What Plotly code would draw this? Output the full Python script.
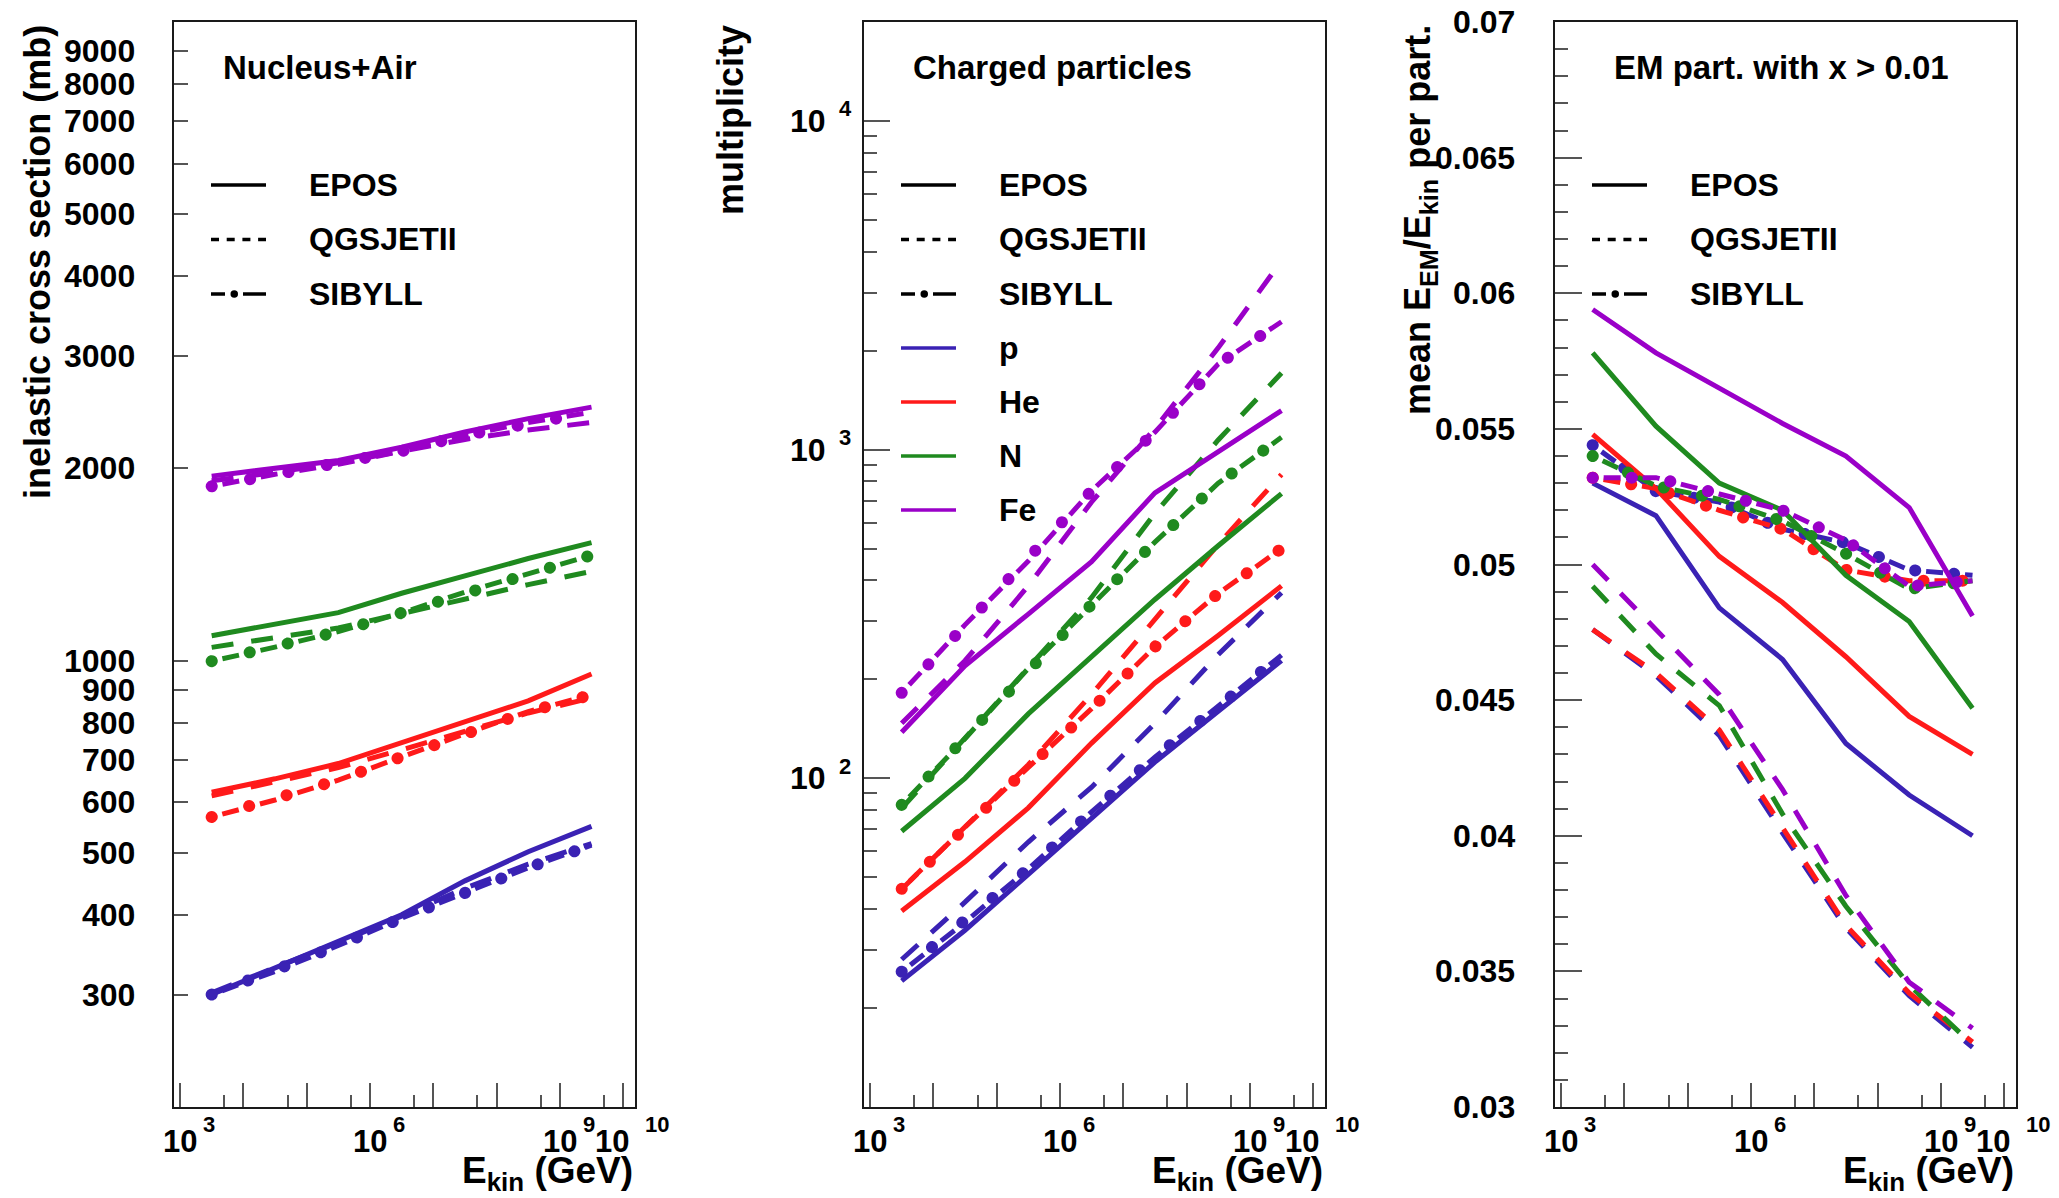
import numpy as np
import plotly.graph_objects as go

W, H = 2059, 1198

# ---------------- data ----------------
energy_gev = [10**3.5, 10**4.5, 10**5.5, 10**6.5, 10**7.5, 10**8.5, 10**9.5]
nuclei = ["p", "He", "N", "Fe"]
models = ["EPOS", "QGSJETII", "SIBYLL"]

# Panel 1: inelastic cross section (mb)
xsec_epos = {"p": [300, 330, 364, 400, 452, 502, 550],
             "He": [622, 653, 690, 744, 802, 865, 953],
             "N": [1094, 1139, 1189, 1275, 1360, 1445, 1530],
             "Fe": [1945, 2000, 2058, 2158, 2280, 2393, 2494]}
xsec_qgs = {"p": [302, 330, 362, 398, 440, 480, 517],
            "He": [614, 645, 680, 725, 775, 828, 874],
            "N": [1049, 1085, 1125, 1185, 1250, 1315, 1380],
            "Fe": [1913, 1970, 2040, 2128, 2220, 2296, 2360]}
xsec_sib = {"p": [300, 326, 358, 395, 433, 474, 514],
            "He": [569, 605, 650, 707, 768, 832, 884],
            "N": [998, 1050, 1110, 1188, 1280, 1365, 1462],
            "Fe": [1875, 1958, 2029, 2128, 2254, 2360, 2449]}

# Panel 2: charged particle multiplicity
mult_epos = {"p": [24.2, 34.5, 51, 76, 112, 160, 228],
             "He": [39.5, 55.7, 81.3, 128, 195, 272, 385],
             "N": [69, 100, 157, 235, 350, 510, 735],
             "Fe": [138, 220, 316, 456, 739, 990, 1315]}
mult_qgs = {"p": [28.1, 42, 64, 94, 147, 238, 367],
            "He": [46, 71, 110, 180, 305, 515, 840],
            "N": [81, 132, 216, 355, 640, 1070, 1710],
            "Fe": [147, 228, 385, 693, 1160, 2040, 3750]}
mult_sib = {"p": [25.8, 36.5, 53, 79, 116, 165, 237],
            "He": [46.1, 71, 108, 163, 251, 365, 500],
            "N": [83, 132, 216, 338, 523, 790, 1090],
            "Fe": [182, 293, 458, 750, 1130, 1820, 2450]}

# Panel 3: mean E_EM/E_kin per particle
em_epos = {"p": [0.0530, 0.0518, 0.0484, 0.0465, 0.0434, 0.0415, 0.0400],
           "He": [0.0548, 0.0528, 0.0503, 0.0486, 0.0466, 0.0444, 0.0430],
           "N": [0.0578, 0.0551, 0.0530, 0.0520, 0.0496, 0.0479, 0.0447],
           "Fe": [0.0594, 0.0578, 0.0565, 0.0552, 0.0540, 0.0521, 0.0481]}
em_qgs = {"p": [0.0476, 0.0459, 0.0437, 0.0401, 0.0366, 0.0341, 0.0322],
          "He": [0.0476, 0.0460, 0.0439, 0.0403, 0.0367, 0.0342, 0.0324],
          "N": [0.0492, 0.0467, 0.0448, 0.0408, 0.0374, 0.0345, 0.0323],
          "Fe": [0.0500, 0.0476, 0.0452, 0.0417, 0.0378, 0.0346, 0.0329]}
em_sib = {"p": [0.0544, 0.0527, 0.0523, 0.0513, 0.0508, 0.0498, 0.0496],
          "He": [0.0532, 0.0528, 0.0520, 0.0513, 0.0498, 0.0494, 0.0494],
          "N": [0.0540, 0.0529, 0.0524, 0.0516, 0.0504, 0.0491, 0.0494],
          "Fe": [0.0532, 0.0532, 0.0526, 0.0520, 0.0509, 0.0492, 0.0494]}

# axis ticks / labels
energy_tick_exps = [3, 4, 5, 6, 7, 8, 9, 10]
energy_label_exps = [3, 6, 9, 10]
xsec_ticks = [300, 400, 500, 600, 700, 800, 900, 1000,
              2000, 3000, 4000, 5000, 6000, 7000, 8000, 9000]
mult_major_exps = [2, 3, 4]
em_ticks = [0.03, 0.035, 0.04, 0.045, 0.05, 0.055, 0.06, 0.065, 0.07]
em_ticklabels = ["0.03", "0.035", "0.04", "0.045", "0.05", "0.055", "0.06", "0.065", "0.07"]

panel_titles = ["Nucleus+Air", "Charged particles", "EM part. with x &gt; 0.01"]
y_titles = ["inelastic cross section (mb)", "multiplicity",
            "mean E<sub>EM</sub>/E<sub>kin</sub> per part."]
x_title = "E<sub>kin</sub> (GeV)"
legend_labels = ["EPOS", "QGSJETII", "SIBYLL", "p", "He", "N", "Fe"]

colors = {"p": "#3a22b4", "He": "#ff1a1a", "N": "#1f8a1f", "Fe": "#9a00c8"}

# ---------------- styling / layout geometry ----------------
FONT = "Liberation Sans, Arial, Helvetica, sans-serif"
X_DOM = [(174, 635), (864, 1325), (1555, 2016)]
Y_TOP, Y_BOT = 22, 1107
LW = 5
QGS_DASH = "22px,18px"
SIB_DASH = "0px,11px,17px,11px"
SIB_DOT = "0.1px,38.9px"
DOT_W = 12


def fx(px):
    return px / W


def fy(py):
    return 1 - py / H


def f(size):
    return dict(family=FONT, size=size, color="black", weight="bold")


fig = go.Figure()

panels = [(xsec_epos, xsec_qgs, xsec_sib),
          (mult_epos, mult_qgs, mult_sib),
          (em_epos, em_qgs, em_sib)]

for i, (d_epos, d_qgs, d_sib) in enumerate(panels):
    xa = "x" if i == 0 else f"x{i+1}"
    ya = "y" if i == 0 else f"y{i+1}"
    for nuc in nuclei:
        c = colors[nuc]
        fig.add_trace(go.Scatter(x=energy_gev, y=d_epos[nuc], mode="lines",
                                 line=dict(color=c, width=LW), xaxis=xa, yaxis=ya,
                                 name=f"EPOS {nuc}", showlegend=False))
        fig.add_trace(go.Scatter(x=energy_gev, y=d_qgs[nuc], mode="lines",
                                 line=dict(color=c, width=LW, dash=QGS_DASH), xaxis=xa, yaxis=ya,
                                 name=f"QGSJETII {nuc}", showlegend=False))
        fig.add_trace(go.Scatter(x=energy_gev, y=d_sib[nuc], mode="lines",
                                 line=dict(color=c, width=LW, dash=SIB_DASH), xaxis=xa, yaxis=ya,
                                 name=f"SIBYLL {nuc}", showlegend=False,
                                 uid=f"sibdash{i}{nuc}"))
        fig.add_trace(go.Scatter(x=energy_gev, y=d_sib[nuc], mode="lines",
                                 line=dict(color=c, width=DOT_W, dash=SIB_DOT), xaxis=xa, yaxis=ya,
                                 name=f"SIBYLL {nuc} dots", showlegend=False, hoverinfo="skip",
                                 uid=f"sibdot{i}{nuc}"))

frame = dict(showline=True, linewidth=2, linecolor="#1a1a1a", mirror=True,
             showgrid=False, zeroline=False, ticks="inside", automargin=False,
             tickcolor="#555555", tickwidth=1.5, showticklabels=False)

energy_ticks = [10.0 ** e for e in energy_tick_exps]
energy_minor = [5 * 10.0 ** e for e in energy_tick_exps[:-1]]

layout = dict(width=W, height=H, margin=dict(l=0, r=0, t=0, b=0, pad=0, autoexpand=False),
              paper_bgcolor="white", plot_bgcolor="white", showlegend=False,
              font=f(30))

for i in range(3):
    xname = "xaxis" if i == 0 else f"xaxis{i+1}"
    layout[xname] = dict(frame, type="log", range=[2.905, 10.187],
                         domain=[fx(X_DOM[i][0]), fx(X_DOM[i][1])],
                         anchor="y" if i == 0 else f"y{i+1}",
                         tickmode="array", tickvals=energy_ticks, ticklen=24,
                         minor=dict(ticks="inside", ticklen=12, tickmode="array",
                                    tickvals=energy_minor, tickcolor="#555555", tickwidth=1.5))

ydom = [fy(Y_BOT), fy(Y_TOP)]
layout["yaxis"] = dict(frame, type="log", range=[np.log10(200), 4], domain=ydom, anchor="x",
                       tickmode="array", tickvals=xsec_ticks, ticklen=14)
mult_minor = [k * 10.0 ** n for n in [1, 2, 3] for k in range(2, 10)]
layout["yaxis2"] = dict(frame, type="log", range=[1, np.log10(2e4)], domain=ydom, anchor="x2",
                        tickmode="array", tickvals=[10.0 ** e for e in mult_major_exps],
                        ticklen=26,
                        minor=dict(ticks="inside", ticklen=13, tickmode="array",
                                   tickvals=mult_minor, tickcolor="#555555", tickwidth=1.5))
em_minor = [round(0.03 + 0.001 * k, 3) for k in range(1, 40) if k % 5 != 0]
layout["yaxis3"] = dict(frame, type="linear", range=[0.03, 0.07], domain=ydom, anchor="x3",
                        tickmode="array", tickvals=em_ticks, ticklen=27,
                        minor=dict(ticks="inside", ticklen=13, tickmode="array",
                                   tickvals=em_minor, tickcolor="#555555", tickwidth=1.5))

annotations = []
shapes = []

# x tick labels (ROOT style 10^n)
for i in range(3):
    xr = "x" if i == 0 else f"x{i+1}"
    for e in energy_label_exps:
        base_shift = -11 if e >= 10 else 0
        sup_shift = 20 if e >= 10 else 21
        annotations.append(dict(xref=xr, yref="paper", x=e, y=fy(1141), text="10",
                                showarrow=False, xanchor="center", yanchor="middle",
                                xshift=base_shift, font=f(31)))
        annotations.append(dict(xref=xr, yref="paper", x=e, y=fy(1124), text=str(e),
                                showarrow=False, xanchor="left", yanchor="middle",
                                xshift=sup_shift, font=f(22)))

# panel 1 y tick labels
for v in xsec_ticks:
    annotations.append(dict(xref="paper", yref="y", x=fx(X_DOM[0][0]), y=np.log10(v),
                            text=str(v), showarrow=False, xanchor="right", yanchor="middle",
                            xshift=-37, font=f(32)))

# panel 2 y tick labels
for e in mult_major_exps:
    annotations.append(dict(xref="paper", yref="y2", x=fx(X_DOM[1][0]), y=e, text="10",
                            showarrow=False, xanchor="right", yanchor="middle",
                            xshift=-36, font=f(32)))
    annotations.append(dict(xref="paper", yref="y2", x=fx(X_DOM[1][0]), y=e, text=str(e),
                            showarrow=False, xanchor="left", yanchor="middle",
                            xshift=-27, yshift=12, font=f(22)))

# panel 3 y tick labels
for v, t in zip(em_ticks, em_ticklabels):
    annotations.append(dict(xref="paper", yref="y3", x=fx(X_DOM[2][0]), y=v,
                            text=t, showarrow=False, xanchor="right", yanchor="middle",
                            xshift=-38, font=f(32)))

# axis titles
ytitle_x = [37, 730, 1420]
for i in range(3):
    annotations.append(dict(xref="paper", yref="paper", x=fx(ytitle_x[i]), y=fy(23),
                            text=y_titles[i], textangle=-90, showarrow=False,
                            xanchor="center", yanchor="top", font=f(36)))
    annotations.append(dict(xref="paper", yref="paper", x=fx(X_DOM[i][1]), y=0,
                            text=x_title, showarrow=False, xanchor="right",
                            yanchor="bottom", font=f(37)))

# panel titles
title_x = [221, 911, 1612]
for i in range(3):
    annotations.append(dict(xref="paper", yref="paper", x=fx(title_x[i]), y=fy(67),
                            text=panel_titles[i], showarrow=False, xanchor="left",
                            yanchor="middle", font=f(33)))

# legends (drawn samples + text)
rows_y = [185, 239.5, 294, 348, 402, 456, 510]
for i in range(3):
    n_rows = 7 if i == 1 else 3
    x0 = X_DOM[i][0]
    for r in range(n_rows):
        yy = fy(rows_y[r])
        annotations.append(dict(xref="paper", yref="paper", x=fx(x0 + 133), y=yy,
                                text=legend_labels[r], showarrow=False, xanchor="left",
                                yanchor="middle", font=f(32)))
        if r == 0:
            shapes.append(dict(type="line", xref="paper", yref="paper", x0=fx(x0 + 37),
                               x1=fx(x0 + 92), y0=yy, y1=yy, line=dict(color="black", width=3.5)))
        elif r == 1:
            shapes.append(dict(type="line", xref="paper", yref="paper", x0=fx(x0 + 37),
                               x1=fx(x0 + 92), y0=yy, y1=yy,
                               line=dict(color="black", width=3.5, dash="8px,7.7px")))
        elif r == 2:
            shapes.append(dict(type="line", xref="paper", yref="paper", x0=fx(x0 + 37),
                               x1=fx(x0 + 51), y0=yy, y1=yy, line=dict(color="black", width=3.5)))
            shapes.append(dict(type="line", xref="paper", yref="paper", x0=fx(x0 + 69),
                               x1=fx(x0 + 92), y0=yy, y1=yy, line=dict(color="black", width=3.5)))
            shapes.append(dict(type="circle", xref="paper", yref="paper",
                               x0=fx(x0 + 56.5), x1=fx(x0 + 64), y0=yy - 3.75 / H, y1=yy + 3.75 / H,
                               fillcolor="black", line=dict(width=0)))
        else:
            shapes.append(dict(type="line", xref="paper", yref="paper", x0=fx(x0 + 37),
                               x1=fx(x0 + 92), y0=yy, y1=yy,
                               line=dict(color=colors[nuclei[r - 3]], width=3.5)))

layout["annotations"] = annotations
layout["shapes"] = shapes
fig.update_layout(**layout)

post = """
var st = document.createElement('style');
st.textContent = 'body{margin:0;} g[class*="tracesibdot"] path { stroke-linecap: round !important; }';
document.head.appendChild(st);
"""
fig.write_html("out.html", post_script=post, config={"displayModeBar": False})
